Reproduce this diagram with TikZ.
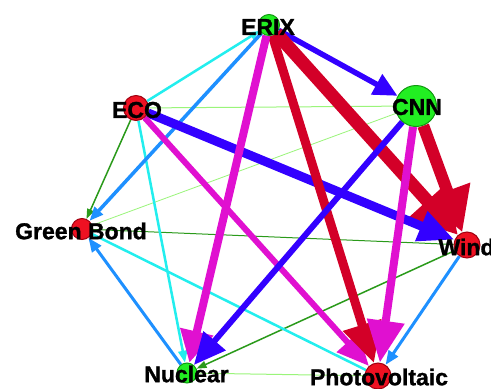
\documentclass[tikz,border=0pt]{standalone}
\usepackage{fontspec}
\setmainfont{Liberation Sans}
\newfontfamily\lblfont[BoldFeatures={FakeBold=1.2}]{Liberation Sans}
\usetikzlibrary{arrows.meta}
\definecolor{ered}{HTML}{D30028}
\definecolor{emag}{HTML}{E010D0}
\definecolor{eblue}{HTML}{3300FF}
\definecolor{edodger}{HTML}{1E90FF}
\definecolor{ecyan}{HTML}{22EEEE}
\definecolor{egreen}{HTML}{2A9A1A}
\definecolor{elgreen}{HTML}{9AF57A}
\definecolor{nred}{HTML}{EE1122}
\definecolor{nredb}{HTML}{A00010}
\definecolor{ngreen}{HTML}{22EE22}
\definecolor{ngreenb}{HTML}{119911}
\pgfdeclarelayer{bg}
\pgfdeclarelayer{edges}
\pgfsetlayers{bg,edges,main}
\begin{document}
\begin{tikzpicture}[x=1pt,y=-1pt,
  rnode/.style={circle,fill=nred,draw=nredb,line width=1pt,inner sep=0pt},
  gnode/.style={circle,fill=ngreen,draw=ngreenb,line width=1pt,inner sep=0pt},
  lbl/.style={font=\lblfont\fontsize{23}{23}\selectfont\bfseries,inner sep=0pt,text=black},
  tip/.style 2 args={-{Triangle[width=#1pt,length=#2pt]}}]
\useasboundingbox (0,0) rectangle (491,389);
\begin{pgfonlayer}{bg}
\fill[white] (0,0) rectangle (491,389);
\end{pgfonlayer}
% nodes
\node[gnode,minimum size=21pt] (erix) at (269,25) {};
\node[rnode,minimum size=25pt] (eco) at (136,108) {};
\node[gnode,minimum size=41pt] (cnn) at (416,106) {};
\node[rnode,minimum size=21pt] (gb) at (82,229) {};
\node[rnode,minimum size=26pt] (wind) at (467,245) {};
\node[gnode,minimum size=20pt] (nuc) at (187,373) {};
\node[rnode,minimum size=26pt] (pv) at (378,376) {};
% labels
\node[lbl] (erixl) at (268,27) {ERIX};
\node[lbl] (ecol) at (137,110) {ECO};
\node[lbl] (cnnl) at (417,107) {CNN};
\node[lbl] (gbl) at (81,231) {Green Bond};
\node[lbl] (windl) at (466.5,247) {Wind};
\node[lbl] (nucl) at (186.5,374) {Nuclear};
\node[lbl] (pvl) at (379,377) {Photovoltaic};
% edges
\begin{pgfonlayer}{edges}
\draw[elgreen,line width=1pt] (eco) -- (cnn);
\draw[elgreen,line width=0.8pt] (cnn) -- (gb);
\draw[elgreen,line width=1pt] (nuc) -- (pv);
\draw[egreen,line width=1pt] (gb) -- (wind);
\draw[egreen,line width=1.5pt,tip={7}{10}] (eco) -- (gb);
\draw[egreen,line width=1.5pt,tip={7}{10}] (wind) -- (nuc);
\draw[ecyan,line width=2.5pt,tip={8}{10}] (eco) -- (erix);
\draw[ecyan,line width=2.5pt,tip={9}{12}] (eco) -- (nuc);
\draw[ecyan,line width=2.5pt] (gb) -- (pv);
\draw[edodger,line width=3.5pt,tip={11}{14}] (erix) -- (gb);
\draw[edodger,line width=3pt,tip={11}{14}] (nuc) -- (gb);
\draw[edodger,line width=3pt,tip={11}{14}] (wind) -- (pv);
\draw[eblue,line width=5.5pt,tip={22}{24}] (erix) -- (cnn);
\draw[ered,line width=12pt,tip={46}{44}] (cnn) -- (wind);
\draw[ered,line width=13pt,tip={50}{46}] (erix) -- (wind);
\draw[eblue,line width=9pt,tip={30}{36}] (eco) -- (wind);
\draw[emag,line width=6pt,tip={28}{32}] (eco) -- (pv);
\draw[ered,line width=9pt,tip={38}{40}] (erix) -- (pv);
\draw[emag,line width=8pt,tip={36}{42}] (cnn) -- (pv);
\draw[emag,line width=8pt,tip={32}{32}] (erix) -- (nuc);
\draw[eblue,line width=6pt,tip={28}{32}] (cnn) -- (nuc);
\end{pgfonlayer}
\end{tikzpicture}
\end{document}
